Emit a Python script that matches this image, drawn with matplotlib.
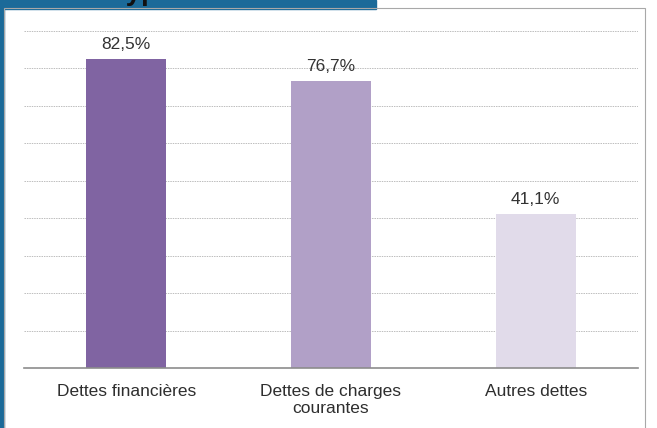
import matplotlib
matplotlib.use("Agg")
import matplotlib.pyplot as plt
from matplotlib.patches import Rectangle

# données
categories = ["Dettes financières", "Dettes de charges\ncourantes", "Autres dettes"]
valeurs = [82.5, 76.7, 41.1]
etiquettes = ["82,5%", "76,7%", "41,1%"]
couleurs = ["#8064a2", "#b1a0c7", "#e1dbea"]

plt.rcParams['font.family'] = ['Liberation Sans', 'DejaVu Sans']

fig = plt.figure(figsize=(6.57, 4.28), dpi=100)
fig.patch.set_facecolor("white")

# bandeau bleu du haut + bord gauche
bleu = "#1b6a99"
fig.patches.append(Rectangle((0, 1 - 8.5 / 428), 376 / 657, 8.5 / 428,
                             transform=fig.transFigure, color=bleu, zorder=0))
fig.patches.append(Rectangle((0, 0), 3.5 / 657, 1, transform=fig.transFigure,
                             color=bleu, zorder=0))
# cadre gris
fig.patches.append(Rectangle((3.5 / 657, -0.01), 641 / 657, 1 - 8.5 / 428 + 0.01,
                             transform=fig.transFigure, fill=False,
                             edgecolor="#a8a8a8", linewidth=0.8, zorder=1))

# titre coupé : seuls les jambages de "yp" dépassent dans le bandeau
fig.text(0.098, 1 + 0.5 / 428, "Par type de dettes", fontsize=20,
         fontweight="bold", color="#111111", va="baseline", ha="left")

ax = fig.add_axes([24 / 657, 1 - 368 / 428, 614 / 657, (368 - 30.7) / 428])
x = range(len(categories))
ax.bar(x, valeurs, width=0.39, color=couleurs, zorder=2)

for i, v in enumerate(valeurs):
    ax.text(i, v + 1.8, etiquettes[i], ha="center", va="bottom",
            fontsize=12.5, color="#333333")

ax.set_xlim(-0.5, 2.5)
ax.set_ylim(0, 90)
ax.set_yticks(range(10, 100, 10))
ax.yaxis.grid(True, linestyle=(0, (1.5, 1)), color="#bdbdbd", linewidth=0.7)
ax.set_axisbelow(True)
ax.tick_params(axis="y", left=False, labelleft=False)
ax.tick_params(axis="x", bottom=False, pad=8)
ax.set_xticks(list(x))
ax.set_xticklabels(categories, fontsize=12.5, color="#2e2e2e")

for s in ["top", "right", "left"]:
    ax.spines[s].set_visible(False)
ax.spines["bottom"].set_color("#8c8c8c")
ax.spines["bottom"].set_linewidth(1.2)

fig.savefig("out.png", dpi=100)
